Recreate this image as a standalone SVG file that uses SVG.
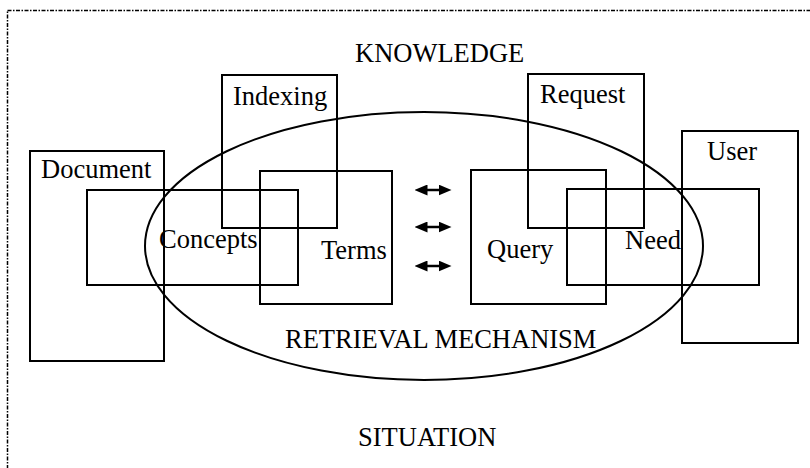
<svg xmlns="http://www.w3.org/2000/svg" width="810" height="468" viewBox="0 0 810 468">
<style>
.box{fill:none;stroke:#000;stroke-width:2}
.lbl{font-family:"Liberation Serif","Times New Roman",serif;font-size:26.5px;fill:#000}
.arr{stroke:#000;stroke-width:2.5;fill:none;marker-start:url(#ah);marker-end:url(#ah)}
</style>
<defs>
<marker id="ah" viewBox="0 0 13 11" refX="0.5" refY="5.5" markerWidth="13" markerHeight="11" orient="auto-start-reverse" markerUnits="userSpaceOnUse">
<path d="M0,0 L13,5.5 L0,11 Z" fill="#000"/>
</marker>
</defs>
<rect width="810" height="468" fill="#fff"/>
<rect x="7.5" y="10.5" width="900" height="600" fill="none" stroke="#000" stroke-width="1.5" stroke-dasharray="4,1.5,1.5,1.5"/>
<g id="knowledge"><text class="lbl" x="355" y="62">KNOWLEDGE</text></g>
<g id="situation"><text class="lbl" x="358" y="446">SITUATION</text></g>
<g id="retrieval-mechanism">
<ellipse class="box" cx="424" cy="246" rx="279" ry="134"/>
<text class="lbl" x="285" y="348">RETRIEVAL MECHANISM</text>
</g>
<g id="document"><rect class="box" x="30" y="151" width="134" height="210"/><text class="lbl" x="41" y="178">Document</text></g>
<g id="concepts"><rect class="box" x="87" y="190" width="211" height="95"/><text class="lbl" x="159" y="248">Concepts</text></g>
<g id="indexing"><rect class="box" x="222" y="75" width="115" height="153"/><text class="lbl" x="233" y="105">Indexing</text></g>
<g id="terms"><rect class="box" x="260" y="171" width="132" height="133"/><text class="lbl" x="321" y="259">Terms</text></g>
<g id="query"><rect class="box" x="471" y="170" width="135" height="134"/><text class="lbl" x="487" y="258">Query</text></g>
<g id="request"><rect class="box" x="528" y="74" width="116" height="154"/><text class="lbl" x="540" y="103">Request</text></g>
<g id="need"><rect class="box" x="567" y="189" width="192" height="96"/><text class="lbl" x="625" y="249">Need</text></g>
<g id="user"><rect class="box" x="682" y="131" width="116" height="212"/><text class="lbl" x="707" y="160">User</text></g>
<g id="connectors">
<line class="arr" x1="427" y1="190" x2="439" y2="190"/>
<line class="arr" x1="427" y1="227" x2="439" y2="227"/>
<line class="arr" x1="427" y1="266" x2="439" y2="266"/>
</g>
</svg>
